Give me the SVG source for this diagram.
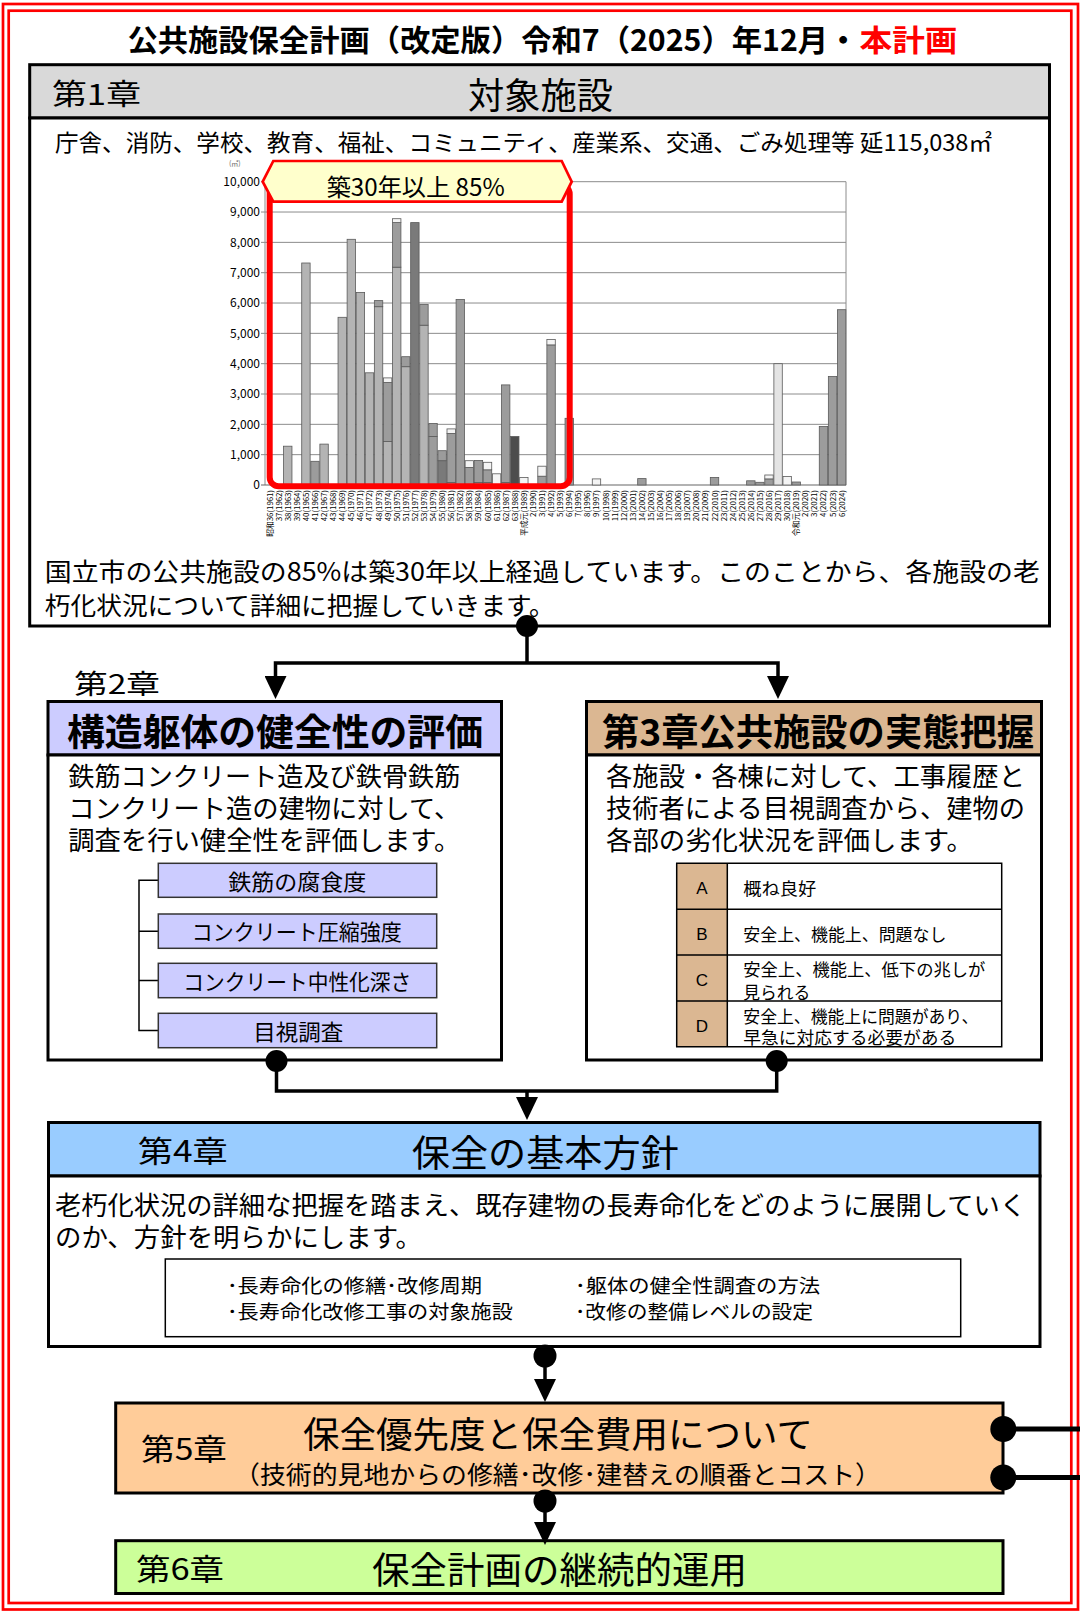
<svg xmlns="http://www.w3.org/2000/svg" width="1080" height="1613" viewBox="0 0 1080 1613">
<defs>
<style>
text{font-family:'Noto Sans CJK JP','Noto Sans',sans-serif;fill:#000}
.bd{font-weight:bold}
.box{stroke:#000;stroke-width:3}
.thin{stroke:#000;stroke-width:1.5;fill:none}
.conn{fill:none;stroke:#000;stroke-width:3.5}
.grid{stroke:#8c8c8c;stroke-width:1}
.yl{font-family:'Liberation Sans',Arial,sans-serif;font-size:12px;fill:#595959;text-anchor:end}
.xl{font-family:'Liberation Sans','Noto Sans CJK JP',sans-serif;font-size:7.8px;fill:#666;text-anchor:end}
.bar{stroke:#5a5a5a;stroke-width:0.8}
.A{fill:#b4b4b4}.B{fill:#9c9c9c}.C{fill:#7a7a7a}.D{fill:#4d4d4d}.W{fill:#f4f4f4}.L{fill:#e4e4e4}
.sub{fill:#ccccff;stroke:#333;stroke-width:1.5}
.tan{fill:#dbb792}
</style>
<marker id="arr" markerUnits="userSpaceOnUse" viewBox="0 0 23 22" markerWidth="23" markerHeight="22" refX="0" refY="11" orient="auto">
<path d="M0,0 L23,11 L0,22 z" fill="#000"/>
</marker>
</defs>
<rect width="1080" height="1613" fill="#fff"/>
<!-- double red frame -->
<rect x="3" y="4" width="1075" height="1605.5" fill="none" stroke="#ff0000" stroke-width="2.7"/>
<rect x="8.7" y="10.7" width="1062.6" height="1592.3" fill="none" stroke="#ff0000" stroke-width="2.7"/>

<!-- title -->
<g id="title">
<text x="127.4" y="51" font-size="30" class="bd" textLength="731" lengthAdjust="spacingAndGlyphs">公共施設保全計画（改定版）令和7（2025）年12月・</text>
<text x="859.5" y="51" font-size="30" class="bd" style="fill:#ff0000" textLength="98" lengthAdjust="spacingAndGlyphs">本計画</text>
</g>

<!-- Chapter 1 -->
<g id="ch1">
<rect class="box" x="29.7" y="64.7" width="1019.8" height="53.3" fill="#d9d9d9"/>
<rect class="box" x="29.7" y="118" width="1019.8" height="508" fill="#fff"/>
<text x="52" y="105" font-size="29" textLength="89" lengthAdjust="spacingAndGlyphs">第1章</text>
<text x="468" y="109" font-size="36" textLength="145" lengthAdjust="spacingAndGlyphs">対象施設</text>
<text x="55" y="151" font-size="23" textLength="937" lengthAdjust="spacingAndGlyphs">庁舎、消防、学校、教育、福祉、コミュニティ、産業系、交通、ごみ処理等 延115,038㎡</text>
<text x="44.8" y="581" font-size="25.5" textLength="995" lengthAdjust="spacingAndGlyphs">国立市の公共施設の85%は築30年以上経過しています。このことから、各施設の老</text>
<text x="44.8" y="615" font-size="25.5" textLength="510" lengthAdjust="spacingAndGlyphs">朽化状況について詳細に把握していきます。</text>
</g>

<!-- chart -->
<g id="chart">
<text x="229" y="166" font-size="7" style="fill:#666">(㎡)</text>
<g class="grid">
<line x1="261" y1="181.7" x2="846" y2="181.7"/>
<line x1="261" y1="212.03" x2="846" y2="212.03"/>
<line x1="261" y1="242.36" x2="846" y2="242.36"/>
<line x1="261" y1="272.69" x2="846" y2="272.69"/>
<line x1="261" y1="303.02" x2="846" y2="303.02"/>
<line x1="261" y1="333.35" x2="846" y2="333.35"/>
<line x1="261" y1="363.68" x2="846" y2="363.68"/>
<line x1="261" y1="394.01" x2="846" y2="394.01"/>
<line x1="261" y1="424.34" x2="846" y2="424.34"/>
<line x1="261" y1="454.67" x2="846" y2="454.67"/>
<line x1="846" y1="181.7" x2="846" y2="485"/>
<line x1="265" y1="181.7" x2="265" y2="485"/>
</g>
<line x1="261" y1="485" x2="846" y2="485" stroke="#666" stroke-width="1.2"/>
<g class="yl">
<text x="260" y="186">10,000</text>
<text x="260" y="216.3">9,000</text>
<text x="260" y="246.6">8,000</text>
<text x="260" y="277">7,000</text>
<text x="260" y="307.3">6,000</text>
<text x="260" y="337.6">5,000</text>
<text x="260" y="367.9">4,000</text>
<text x="260" y="398.3">3,000</text>
<text x="260" y="428.6">2,000</text>
<text x="260" y="458.9">1,000</text>
<text x="260" y="489.3">0</text>
</g>
<g class="bar">
<rect class="A" x="283.56" y="446.2" width="8.4" height="38.8"/>
<rect class="A" x="301.72" y="263" width="8.4" height="222"/>
<rect class="B" x="310.8" y="461.3" width="8.4" height="23.7"/>
<rect class="A" x="319.88" y="444.1" width="8.4" height="40.9"/>
<rect class="A" x="338.04" y="317.3" width="8.4" height="167.7"/>
<rect class="A" x="347.12" y="239.3" width="8.4" height="245.7"/>
<rect class="A" x="356.2" y="292.4" width="8.4" height="192.6"/>
<rect class="A" x="365.28" y="372.8" width="8.4" height="112.2"/>
<rect class="A" x="374.36" y="306.7" width="8.4" height="178.3"/>
<rect class="B" x="374.36" y="300.6" width="8.4" height="6.1"/>
<rect class="A" x="383.44" y="441.6" width="8.4" height="43.4"/>
<rect class="B" x="383.44" y="382.5" width="8.4" height="59.1"/>
<rect class="W" x="383.44" y="377.9" width="8.4" height="4.6"/>
<rect class="A" x="392.52" y="267.2" width="8.4" height="217.8"/>
<rect class="B" x="392.52" y="222.6" width="8.4" height="44.6"/>
<rect class="W" x="392.52" y="218.7" width="8.4" height="3.9"/>
<rect class="A" x="401.6" y="366.7" width="8.4" height="118.3"/>
<rect class="B" x="401.6" y="356.7" width="8.4" height="10"/>
<rect class="C" x="410.68" y="222.6" width="8.4" height="262.4"/>
<rect class="A" x="419.76" y="325.2" width="8.4" height="159.8"/>
<rect class="B" x="419.76" y="304.5" width="8.4" height="20.7"/>
<rect class="B" x="428.84" y="436.5" width="8.4" height="48.5"/>
<rect class="B" x="428.84" y="423.4" width="8.4" height="13.1"/>
<rect class="C" x="437.92" y="460.7" width="8.4" height="24.3"/>
<rect class="B" x="437.92" y="450.7" width="8.4" height="10"/>
<rect class="B" x="447" y="482.6" width="8.4" height="2.4"/>
<rect class="B" x="447" y="433.4" width="8.4" height="49.2"/>
<rect class="W" x="447" y="428.9" width="8.4" height="4.5"/>
<rect class="B" x="456.08" y="299.4" width="8.4" height="185.6"/>
<rect class="B" x="465.16" y="467.4" width="8.4" height="17.6"/>
<rect class="W" x="465.16" y="460.7" width="8.4" height="6.7"/>
<rect class="B" x="474.24" y="482.6" width="8.4" height="2.4"/>
<rect class="B" x="474.24" y="460.4" width="8.4" height="22.2"/>
<rect class="B" x="483.32" y="482.6" width="8.4" height="2.4"/>
<rect class="B" x="483.32" y="469.8" width="8.4" height="12.8"/>
<rect class="W" x="483.32" y="462.3" width="8.4" height="7.5"/>
<rect class="W" x="492.4" y="473.8" width="8.4" height="11.2"/>
<rect class="B" x="501.48" y="482.6" width="8.4" height="2.4"/>
<rect class="B" x="501.48" y="384.9" width="8.4" height="97.7"/>
<rect class="D" x="510.56" y="436.5" width="8.4" height="48.5"/>
<rect class="W" x="519.64" y="477.4" width="8.4" height="7.6"/>
<rect class="B" x="537.8" y="476.2" width="8.4" height="8.8"/>
<rect class="W" x="537.8" y="466.2" width="8.4" height="10"/>
<rect class="B" x="546.88" y="344.9" width="8.4" height="140.1"/>
<rect class="W" x="546.88" y="339.4" width="8.4" height="5.5"/>
<rect class="B" x="565.04" y="418.3" width="8.4" height="66.7"/>
<rect class="W" x="592.28" y="478.9" width="8.4" height="6.1"/>
<rect class="B" x="637.68" y="478.6" width="8.4" height="6.4"/>
<rect class="B" x="710.32" y="477.4" width="8.4" height="7.6"/>
<rect class="B" x="746.64" y="480.8" width="8.4" height="4.2"/>
<rect class="B" x="755.72" y="482.3" width="8.4" height="2.7"/>
<rect class="B" x="764.8" y="478.9" width="8.4" height="6.1"/>
<rect class="W" x="764.8" y="475" width="8.4" height="3.9"/>
<rect class="L" x="773.88" y="363.7" width="8.4" height="121.3"/>
<rect class="W" x="782.96" y="476.5" width="8.4" height="8.5"/>
<rect class="B" x="792.04" y="482" width="8.4" height="3"/>
<rect class="B" x="819.28" y="426.5" width="8.4" height="58.5"/>
<rect class="B" x="828.36" y="376.4" width="8.4" height="108.6"/>
<rect class="B" x="837.44" y="309.7" width="8.4" height="175.3"/>
</g>
<g class="xl" transform="rotate(-90)">
<text x="-490" y="272.6">昭和36(1961)</text>
<text x="-490" y="281.68">37(1962)</text>
<text x="-490" y="290.76">38(1963)</text>
<text x="-490" y="299.84">39(1964)</text>
<text x="-490" y="308.92">40(1965)</text>
<text x="-490" y="318">41(1966)</text>
<text x="-490" y="327.08">42(1967)</text>
<text x="-490" y="336.16">43(1968)</text>
<text x="-490" y="345.24">44(1969)</text>
<text x="-490" y="354.32">45(1970)</text>
<text x="-490" y="363.4">46(1971)</text>
<text x="-490" y="372.48">47(1972)</text>
<text x="-490" y="381.56">48(1973)</text>
<text x="-490" y="390.64">49(1974)</text>
<text x="-490" y="399.72">50(1975)</text>
<text x="-490" y="408.8">51(1976)</text>
<text x="-490" y="417.88">52(1977)</text>
<text x="-490" y="426.96">53(1978)</text>
<text x="-490" y="436.04">54(1979)</text>
<text x="-490" y="445.12">55(1980)</text>
<text x="-490" y="454.2">56(1981)</text>
<text x="-490" y="463.28">57(1982)</text>
<text x="-490" y="472.36">58(1983)</text>
<text x="-490" y="481.44">59(1984)</text>
<text x="-490" y="490.52">60(1985)</text>
<text x="-490" y="499.6">61(1986)</text>
<text x="-490" y="508.68">62(1987)</text>
<text x="-490" y="517.76">63(1988)</text>
<text x="-490" y="526.84">平成元(1989)</text>
<text x="-490" y="535.92">2(1990)</text>
<text x="-490" y="545">3(1991)</text>
<text x="-490" y="554.08">4(1992)</text>
<text x="-490" y="563.16">5(1993)</text>
<text x="-490" y="572.24">6(1994)</text>
<text x="-490" y="581.32">7(1995)</text>
<text x="-490" y="590.4">8(1996)</text>
<text x="-490" y="599.48">9(1997)</text>
<text x="-490" y="608.56">10(1998)</text>
<text x="-490" y="617.64">11(1999)</text>
<text x="-490" y="626.72">12(2000)</text>
<text x="-490" y="635.8">13(2001)</text>
<text x="-490" y="644.88">14(2002)</text>
<text x="-490" y="653.96">15(2003)</text>
<text x="-490" y="663.04">16(2004)</text>
<text x="-490" y="672.12">17(2005)</text>
<text x="-490" y="681.2">18(2006)</text>
<text x="-490" y="690.28">19(2007)</text>
<text x="-490" y="699.36">20(2008)</text>
<text x="-490" y="708.44">21(2009)</text>
<text x="-490" y="717.52">22(2010)</text>
<text x="-490" y="726.6">23(2011)</text>
<text x="-490" y="735.68">24(2012)</text>
<text x="-490" y="744.76">25(2013)</text>
<text x="-490" y="753.84">26(2014)</text>
<text x="-490" y="762.92">27(2015)</text>
<text x="-490" y="772">28(2016)</text>
<text x="-490" y="781.08">29(2017)</text>
<text x="-490" y="790.16">30(2018)</text>
<text x="-490" y="799.24">令和元(2019)</text>
<text x="-490" y="808.32">2(2020)</text>
<text x="-490" y="817.4">3(2021)</text>
<text x="-490" y="826.48">4(2022)</text>
<text x="-490" y="835.56">5(2023)</text>
<text x="-490" y="844.64">6(2024)</text>
</g>
<rect x="269.7" y="185" width="300" height="301.3" rx="9" fill="none" stroke="#ff0000" stroke-width="6"/>
<polygon points="262.7,181.7 273.3,161 561.7,161 571.7,181.7 561.7,201.7 273.3,201.7" fill="#ffffcc" stroke="#ff0000" stroke-width="2.7"/>
<text x="326.7" y="196" font-size="24" textLength="178" lengthAdjust="spacingAndGlyphs">築30年以上 85%</text>
</g>

<!-- Chapter 2 -->
<g id="ch2">
<text x="74" y="694" font-size="27" textLength="86" lengthAdjust="spacingAndGlyphs">第2章</text>
<rect class="box" x="48" y="701.5" width="453.5" height="53.5" fill="#ccccff"/>
<rect class="box" x="48" y="755" width="453.5" height="305" fill="#fff"/>
<text x="67" y="746" font-size="37" class="bd" textLength="416" lengthAdjust="spacingAndGlyphs">構造躯体の健全性の評価</text>
<text x="68.3" y="786" font-size="26" textLength="392" lengthAdjust="spacingAndGlyphs">鉄筋コンクリート造及び鉄骨鉄筋</text>
<text x="68.3" y="818" font-size="26" textLength="392" lengthAdjust="spacingAndGlyphs">コンクリート造の建物に対して、</text>
<text x="68.3" y="850" font-size="26" textLength="392" lengthAdjust="spacingAndGlyphs">調査を行い健全性を評価します。</text>
<path class="thin" d="M158.3,880.3 H139 V1030.5 H158.3 M139,931.2 H158.3 M139,980.5 H158.3"/>
<rect class="sub" x="158.3" y="863.3" width="278.4" height="34"/>
<rect class="sub" x="158.3" y="914" width="278.4" height="34.3"/>
<rect class="sub" x="158.3" y="963.3" width="278.4" height="34.4"/>
<rect class="sub" x="158.3" y="1013.3" width="278.4" height="34.4"/>
<text x="228.3" y="889.5" font-size="22" textLength="138" lengthAdjust="spacingAndGlyphs">鉄筋の腐食度</text>
<text x="191.7" y="940" font-size="22" textLength="210" lengthAdjust="spacingAndGlyphs">コンクリート圧縮強度</text>
<text x="183.3" y="989.5" font-size="22" textLength="228" lengthAdjust="spacingAndGlyphs">コンクリート中性化深さ</text>
<text x="253.3" y="1039.5" font-size="22" textLength="90" lengthAdjust="spacingAndGlyphs">目視調査</text>
</g>

<!-- Chapter 3 -->
<g id="ch3">
<rect class="box tan" x="586.5" y="701.5" width="455" height="53.5"/>
<rect class="box" x="586.5" y="755" width="455" height="305" fill="#fff"/>
<text x="602" y="746" font-size="37" class="bd" textLength="432" lengthAdjust="spacingAndGlyphs">第3章公共施設の実態把握</text>
<text x="606" y="786" font-size="26" textLength="419" lengthAdjust="spacingAndGlyphs">各施設・各棟に対して、工事履歴と</text>
<text x="606" y="818" font-size="26" textLength="419" lengthAdjust="spacingAndGlyphs">技術者による目視調査から、建物の</text>
<text x="606" y="850" font-size="26" textLength="367" lengthAdjust="spacingAndGlyphs">各部の劣化状況を評価します。</text>
<rect class="tan" x="676.7" y="863.3" width="50.6" height="183.4"/>
<g font-size="17" text-anchor="middle">
<text x="702" y="894" style="font-family:'Liberation Sans',Arial,sans-serif">A</text>
<text x="702" y="940" style="font-family:'Liberation Sans',Arial,sans-serif">B</text>
<text x="702" y="986" style="font-family:'Liberation Sans',Arial,sans-serif">C</text>
<text x="702" y="1031.5" style="font-family:'Liberation Sans',Arial,sans-serif">D</text>
</g>
<text x="743.3" y="895" font-size="17.5" textLength="73" lengthAdjust="spacingAndGlyphs">概ね良好</text>
<text x="743.3" y="941" font-size="17.5" textLength="203" lengthAdjust="spacingAndGlyphs">安全上、機能上、問題なし</text>
<text x="743.3" y="976" font-size="17.5" textLength="242" lengthAdjust="spacingAndGlyphs">安全上、機能上、低下の兆しが</text>
<text x="743.3" y="999" font-size="17.5" textLength="67" lengthAdjust="spacingAndGlyphs">見られる</text>
<text x="743.3" y="1022.5" font-size="17.5" textLength="235" lengthAdjust="spacingAndGlyphs">安全上、機能上に問題があり、</text>
<text x="743.3" y="1043.5" font-size="17.5" textLength="213" lengthAdjust="spacingAndGlyphs">早急に対応する必要がある</text>
<path class="thin" d="M676.7,863.3 H1001.7 V1046.7 H676.7 Z M727.3,863.3 V1046.7 M676.7,909.3 H1001.7 M676.7,955 H1001.7 M676.7,1001 H1001.7"/>
</g>

<!-- Chapter 4 -->
<g id="ch4">
<rect class="box" x="48.5" y="1122.5" width="991.5" height="53.5" fill="#99ccff"/>
<rect class="box" x="48.5" y="1176" width="991.5" height="170.5" fill="#fff"/>
<text x="137.7" y="1162" font-size="30" textLength="90" lengthAdjust="spacingAndGlyphs">第4章</text>
<text x="411.8" y="1167" font-size="37" textLength="267" lengthAdjust="spacingAndGlyphs">保全の基本方針</text>
<text x="55" y="1215" font-size="26" textLength="971" lengthAdjust="spacingAndGlyphs">老朽化状況の詳細な把握を踏まえ、既存建物の長寿命化をどのように展開していく</text>
<text x="55" y="1247" font-size="26" textLength="367" lengthAdjust="spacingAndGlyphs">のか、方針を明らかにします。</text>
<rect class="thin" x="165.3" y="1259" width="795.4" height="77.7"/>
<text x="227" y="1293" font-size="19.5" textLength="255" lengthAdjust="spacingAndGlyphs">･長寿命化の修繕･改修周期</text>
<text x="227" y="1319" font-size="19.5" textLength="286" lengthAdjust="spacingAndGlyphs">･長寿命化改修工事の対象施設</text>
<text x="575" y="1293" font-size="19.5" textLength="245" lengthAdjust="spacingAndGlyphs">･躯体の健全性調査の方法</text>
<text x="575" y="1319" font-size="19.5" textLength="238" lengthAdjust="spacingAndGlyphs">･改修の整備レベルの設定</text>
</g>

<!-- Chapter 5 -->
<g id="ch5">
<rect class="box" x="115.7" y="1403" width="887.3" height="90" fill="#ffcc99"/>
<text x="141" y="1460" font-size="30" textLength="86" lengthAdjust="spacingAndGlyphs">第5章</text>
<text x="303" y="1448" font-size="36" textLength="510" lengthAdjust="spacingAndGlyphs">保全優先度と保全費用について</text>
<text x="234" y="1484" font-size="25" textLength="647" lengthAdjust="spacingAndGlyphs">（技術的見地からの修繕･改修･建替えの順番とコスト）</text>
</g>

<!-- Chapter 6 -->
<g id="ch6">
<rect class="box" x="115.7" y="1540.7" width="887.3" height="52.8" fill="#ccff99"/>
<text x="136" y="1580" font-size="30" textLength="88" lengthAdjust="spacingAndGlyphs">第6章</text>
<text x="372" y="1584" font-size="37" textLength="375" lengthAdjust="spacingAndGlyphs">保全計画の継続的運用</text>
</g>

<!-- connectors -->
<g id="connectors">
<path class="conn" d="M527,626 V663"/>
<path class="conn" d="M527,663 H275.5 V676" marker-end="url(#arr)"/>
<path class="conn" d="M527,663 H778 V676" marker-end="url(#arr)"/>
<path class="conn" d="M276.5,1061 V1091 H776.7 V1061"/>
<path class="conn" d="M527,1091 V1097" marker-end="url(#arr)"/>
<path class="conn" d="M545,1356 V1379" marker-end="url(#arr)"/>
<path class="conn" d="M545,1501 V1522" marker-end="url(#arr)"/>
<path fill="none" stroke="#000" stroke-width="5" d="M1003.3,1429 H1080 M1003.3,1477.5 H1080"/>
<circle cx="527" cy="626" r="11"/>
<circle cx="276.5" cy="1061" r="11"/>
<circle cx="776.7" cy="1061" r="11"/>
<circle cx="545" cy="1356" r="11.5"/>
<circle cx="545" cy="1501" r="11.5"/>
<circle cx="1003.3" cy="1429" r="13"/>
<circle cx="1003.3" cy="1477.5" r="13"/>
</g>
</svg>
